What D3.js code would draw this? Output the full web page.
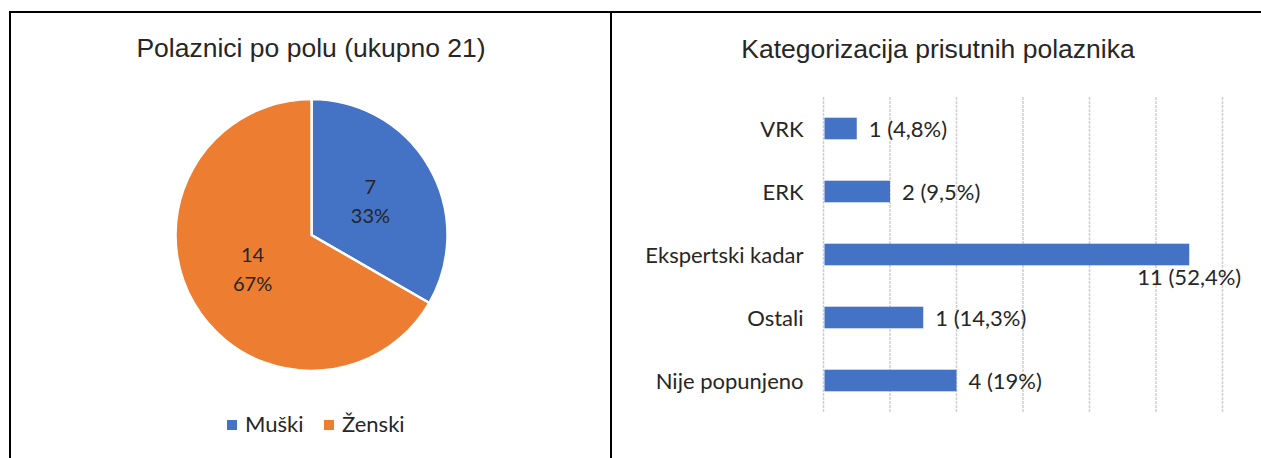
<!DOCTYPE html>
<html>
<head>
<meta charset="utf-8">
<script src="https://cdn.jsdelivr.net/npm/d3@7"></script>
<style>
  body { margin: 0; background: #fff; }
  svg { display: block; }
</style>
</head>
<body>
<svg id="chart" width="1261" height="458"></svg>
<script>
// pie data
var genders = ["Muški", "Ženski"];
var genderCounts = [7, 14];
var genderPct = ["33%", "67%"];
var pieColors = ["#4472C4", "#ED7D31"];

// bar data
var categories = ["VRK", "ERK", "Ekspertski kadar", "Ostali", "Nije popunjeno"];
var catCounts = [1, 2, 11, 3, 4];
var catLabels = ["1 (4,8%)", "2 (9,5%)", "11 (52,4%)", "1 (14,3%)", "4 (19%)"];
var xTicks = [0, 2, 4, 6, 8, 10, 12];

var svg = d3.select("#chart");
var calibri = "Lato, 'Open Sans', sans-serif";
var arial = "'Liberation Sans', Arial, sans-serif";

// panel frame
svg.append("line").attr("x1", 10).attr("x2", 1261).attr("y1", 12).attr("y2", 12)
  .attr("stroke", "#000").attr("stroke-width", 2);
svg.append("line").attr("x1", 10).attr("x2", 10).attr("y1", 11).attr("y2", 458)
  .attr("stroke", "#000").attr("stroke-width", 2);
svg.append("line").attr("x1", 611).attr("x2", 611).attr("y1", 11).attr("y2", 458)
  .attr("stroke", "#000").attr("stroke-width", 2);

// ---- Pie chart ----
svg.append("text").attr("x", 311).attr("y", 57).attr("text-anchor", "middle")
  .attr("font-family", arial).attr("font-size", 26.5).attr("fill", "#262626")
  .text("Polaznici po polu (ukupno 21)");

var r = 136;
var pieG = svg.append("g").attr("transform", "translate(311.5,235)");
var pie = d3.pie().sort(null).value(function(d) { return d; });
var arcs = pie(genderCounts);
var arc = d3.arc().innerRadius(0).outerRadius(r);
var labelArc = d3.arc().innerRadius(r * 0.5).outerRadius(r * 0.5);

pieG.selectAll(".slice")
  .data(arcs)
  .enter().append("path")
  .attr("class", "slice")
  .attr("d", arc)
  .attr("fill", function(d, i) { return pieColors[i]; })
  .attr("stroke", "#fff")
  .attr("stroke-width", 2.5);

var pieLabels = pieG.selectAll(".plabel")
  .data(arcs)
  .enter().append("text")
  .attr("class", "plabel")
  .attr("text-anchor", "middle")
  .attr("font-family", calibri).attr("font-size", 20).attr("fill", "#262626")
  .attr("transform", function(d) {
    var c = labelArc.centroid(d);
    return "translate(" + c[0] + "," + c[1] + ")";
  });
pieLabels.append("tspan").attr("x", 0).attr("y", -7)
  .text(function(d, i) { return genderCounts[i]; });
pieLabels.append("tspan").attr("x", 0).attr("y", 22)
  .text(function(d, i) { return genderPct[i]; });

// legend
var legendX = [227, 324];
var legend = svg.selectAll(".legend")
  .data(genders)
  .enter().append("g")
  .attr("class", "legend")
  .attr("transform", function(d, i) { return "translate(" + legendX[i] + ",420)"; });
legend.append("rect").attr("width", 10).attr("height", 10)
  .attr("fill", function(d, i) { return pieColors[i]; });
legend.append("text").attr("x", 18).attr("y", 12)
  .attr("font-family", calibri).attr("font-size", 22).attr("fill", "#262626")
  .text(function(d) { return d; });

// ---- Bar chart ----
svg.append("text").attr("x", 938).attr("y", 58).attr("text-anchor", "middle")
  .attr("font-family", arial).attr("font-size", 26.5).attr("fill", "#262626")
  .text("Kategorizacija prisutnih polaznika");

var x = d3.scaleLinear().domain([0, 12]).range([823.5, 1222.5]);
var y = d3.scaleBand().domain(categories).range([97, 412])
  .paddingInner(0.657).paddingOuter(0.3285);

// gridlines
svg.selectAll(".grid")
  .data(xTicks)
  .enter().append("line")
  .attr("class", "grid")
  .attr("x1", function(d) { return x(d); })
  .attr("x2", function(d) { return x(d); })
  .attr("y1", 97).attr("y2", 412)
  .attr("stroke", "#d0d0d0").attr("stroke-width", 1.5)
  .attr("stroke-dasharray", "3,1");

// category axis
var yAxis = svg.append("g")
  .attr("transform", "translate(" + x(0) + ",0)")
  .call(d3.axisLeft(y).tickSize(0).tickPadding(20));
yAxis.select(".domain").remove();
yAxis.selectAll("text")
  .attr("dy", null).attr("y", 8)
  .attr("font-family", calibri).attr("font-size", 22).attr("fill", "#262626");

// bars
svg.selectAll(".bar")
  .data(categories)
  .enter().append("rect")
  .attr("class", "bar")
  .attr("x", x(0) + 1)
  .attr("y", function(d) { return y(d); })
  .attr("width", function(d, i) { return x(catCounts[i]) - x(0) - 1; })
  .attr("height", y.bandwidth())
  .attr("fill", "#4472C4");

// value labels (move below the bar end when they don't fit)
svg.selectAll(".vlabel")
  .data(categories)
  .enter().append("text")
  .attr("class", "vlabel")
  .attr("font-family", calibri).attr("font-size", 22).attr("fill", "#262626")
  .each(function(d, i) {
    var t = d3.select(this).text(catLabels[i]);
    var w = this.getComputedTextLength();
    var end = x(catCounts[i]);
    if (end + 12 + w > x(12) + 5) {
      t.attr("x", end).attr("text-anchor", "middle")
        .attr("y", y(d) + y.bandwidth() + 20);
    } else {
      t.attr("x", end + 12)
        .attr("y", y(d) + y.bandwidth() / 2 + 8);
    }
  });
</script>
</body>
</html>
